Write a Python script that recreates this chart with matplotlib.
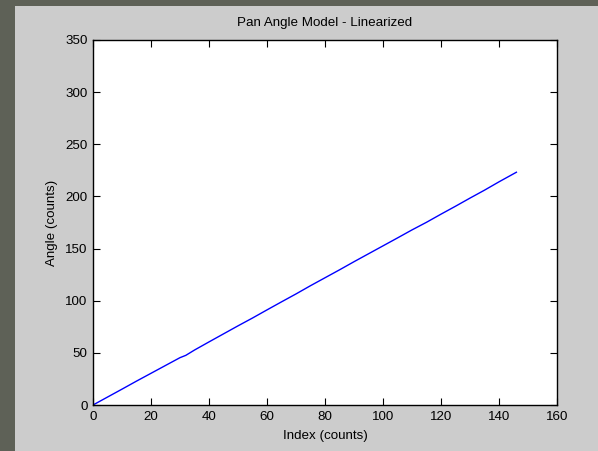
import matplotlib
matplotlib.use("Agg")
import matplotlib.pyplot as plt
from matplotlib.patches import Rectangle

# Linearized pan angle vs. sample index
index = [0, 5, 10, 15, 20, 25, 30, 32, 35, 40, 45, 50, 55, 60, 65, 70, 75,
         80, 85, 90, 95, 100, 105, 110, 115, 120, 125, 130, 135, 140, 146]
angle = [0.0, 7.6, 15.2, 22.9, 30.4, 37.9, 45.4, 47.6, 52.7, 60.5, 68.2,
         75.9, 83.4, 91.2, 98.9, 106.5, 114.4, 122.0, 129.6, 137.4, 145.0,
         152.6, 160.2, 167.9, 175.2, 183.0, 190.6, 198.4, 206.0, 214.0, 223.2]

xticks = [0, 20, 40, 60, 80, 100, 120, 140, 160]
yticks = [0, 50, 100, 150, 200, 250, 300, 350]

W, H = 598, 451
plt.rcParams['font.family'] = ['Liberation Sans', 'DejaVu Sans']
fs = 9.6

fig = plt.figure(figsize=(W / 100, H / 100), dpi=100, facecolor='#cccccc')
# dark window border on the left and top
fig.patches.append(Rectangle((0, 0), 15 / W, 1, transform=fig.transFigure,
                             facecolor='#5e6157', edgecolor='none', zorder=0))
fig.patches.append(Rectangle((0, 1 - 6 / H), 1, 6 / H, transform=fig.transFigure,
                             facecolor='#5e6157', edgecolor='none', zorder=0))

ax = fig.add_axes([93 / W, (H - 405) / H, 464 / W, 365 / H])
ax.set_facecolor('white')
ax.plot(index, angle, color='#0000ff', lw=1.0)

ax.set_xlim(0, 160)
ax.set_ylim(0, 350)
ax.set_xticks(xticks)
ax.set_yticks(yticks)
ax.tick_params(direction='in', top=True, right=True, length=5, width=0.8,
               labelsize=fs, colors='black', pad=4)
for s in ax.spines.values():
    s.set_linewidth(1.0)
    s.set_color('black')

ax.set_title('Pan Angle Model - Linearized', fontsize=fs, pad=10)
ax.set_xlabel('Index (counts)', fontsize=fs, labelpad=5)
ax.set_ylabel('Angle (counts)', fontsize=fs, labelpad=5)

fig.savefig('out.png', dpi=100, facecolor=fig.get_facecolor())
